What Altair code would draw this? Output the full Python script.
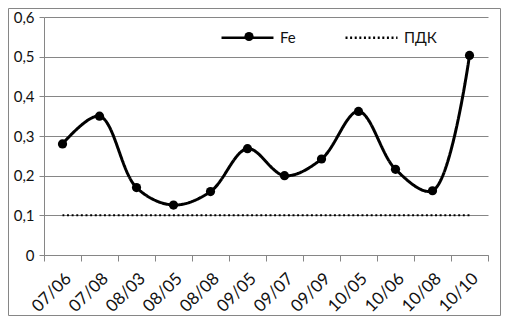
import altair as alt
import pandas as pd

dates = ["07/06", "07/08", "08/03", "08/05", "08/08", "09/05",
         "09/07", "09/09", "10/05", "10/06", "10/08", "10/10"]
fe = [0.28, 0.35, 0.17, 0.126, 0.16, 0.268, 0.2, 0.242, 0.362, 0.216, 0.162, 0.503]
pdk = [0.1, 0.1, 0.1, 0.1, 0.1, 0.1, 0.1, 0.1, 0.1, 0.1, 0.1, 0.1]
series_names = ["Fe", "ПДК"]
y_ticks = [0, 0.1, 0.2, 0.3, 0.4, 0.5, 0.6]

rows = []
for d, v in zip(dates, fe):
    rows.append({"date": d, "value": v, "series": series_names[0], "pt": series_names[0]})
for d, v in zip(dates, pdk):
    rows.append({"date": d, "value": v, "series": series_names[1], "pt": series_names[1]})
df = pd.DataFrame(rows)

FONT = "Lato"
GRID = "#868686"
TXT = "#111111"
W, H = 444, 238
PL, PT, PR, PB = 36, 9, 13, 61

x_enc = alt.X(
    "date:N", sort=dates, bandPosition=0.5,
    scale=alt.Scale(type="band", paddingInner=0, paddingOuter=0),
    axis=alt.Axis(title=None, labelAngle=-45, tickBand="extent", grid=False,
                  domainColor=GRID, tickColor=GRID, tickSize=6,
                  labelFont=FONT, labelFontSize=17, labelColor=TXT, labelPadding=9),
)
y_enc = alt.Y(
    "value:Q", scale=alt.Scale(domain=[0, 0.6]),
    axis=alt.Axis(title=None, values=y_ticks, gridColor=GRID, domainColor=GRID,
                  tickColor=GRID, tickSize=5, labelPadding=5,
                  labelFont=FONT, labelFontSize=15, labelColor=TXT,
                  labelExpr="datum.value == 0 ? '0' : replace(format(datum.value, '.1f'), '.', ',')"),
)

base = alt.Chart(df)

lines = base.mark_line(interpolate="catmull-rom", color="black").encode(
    x=x_enc, y=y_enc,
    strokeDash=alt.StrokeDash("series:N", scale=alt.Scale(domain=series_names, range=[[1, 0], [2, 2.6]]),
                              legend=alt.Legend(title=None, orient="none", direction="horizontal",
                                                legendX=176, legendY=-7, symbolType="stroke",
                                                symbolSize=2700, symbolStrokeColor="black",
                                                symbolStrokeWidth=2.5,
                                                columnPadding=44, labelOffset=5, padding=0,
                                                labelFont=FONT, labelFontSize=15, labelColor=TXT)),
    strokeWidth=alt.StrokeWidth("series:N", scale=alt.Scale(domain=series_names, range=[3, 2]),
                                legend=None),
)

points = base.transform_filter(alt.datum.series == "Fe").mark_point(
    filled=True, color="black", opacity=1, size=85
).encode(
    x=x_enc, y=y_enc,
    shape=alt.Shape("pt:N", scale=alt.Scale(domain=["Fe"], range=["circle"]),
                    legend=alt.Legend(title=None, orient="none", direction="horizontal",
                                      legendX=197.5, legendY=12, symbolSize=85,
                                      symbolFillColor="black", symbolStrokeColor="black",
                                      labelOpacity=0, padding=0,
                                      labelFont=FONT, labelFontSize=15)),
)

frame = alt.Chart(pd.DataFrame({"f": [0]})).mark_rect(
    fillOpacity=0, stroke=GRID, strokeWidth=1
).encode(x=alt.value(-PL + 0.5), x2=alt.value(W + PR - 0.5),
         y=alt.value(-PT + 0.5), y2=alt.value(H + PB - 0.5))

chart = alt.layer(frame, lines, points).properties(
    width=W, height=H,
    autosize=alt.AutoSizeParams(type="none"),
    padding={"left": PL, "top": PT, "right": PR, "bottom": PB},
).resolve_legend(shape="independent", strokeDash="independent").configure_view(strokeWidth=0)

chart.save("out.html", embed_options={"renderer": "svg", "actions": False})
